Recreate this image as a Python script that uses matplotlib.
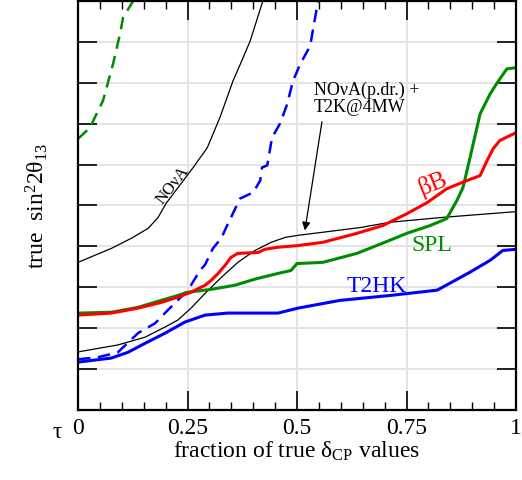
import numpy as np
import matplotlib
matplotlib.use("Agg")
import matplotlib.pyplot as plt
from matplotlib.ticker import MultipleLocator

plt.rcParams['font.family'] = ['Liberation Serif', 'DejaVu Serif']
plt.rcParams['mathtext.fontset'] = 'custom'
plt.rcParams['mathtext.rm'] = 'Liberation Serif'
plt.rcParams['mathtext.it'] = 'Liberation Serif'

# sensitivity limits, y in grid units (one unit per tick spacing)
nova_x = [0.0, 0.076, 0.122, 0.16, 0.183, 0.201, 0.263, 0.295, 0.324, 0.354, 0.374, 0.393, 0.422]
nova_y = [3.61, 3.95, 4.2, 4.44, 4.71, 5.05, 5.93, 6.41, 7.15, 8.05, 8.54, 9.02, 10.0]

comb_x = [0.0, 0.091, 0.153, 0.199, 0.228, 0.258, 0.29, 0.327, 0.365, 0.404, 0.441,
          0.473, 0.502, 0.644, 0.712, 0.833, 1.0]
comb_y = [1.42, 1.59, 1.78, 2.03, 2.2, 2.49, 2.85, 3.24, 3.61, 3.9, 4.1,
          4.22, 4.27, 4.46, 4.59, 4.71, 4.85]

spl_d_x = [0.0, 0.027, 0.057, 0.08, 0.096, 0.103, 0.126]
spl_d_y = [6.63, 6.9, 7.56, 8.46, 9.2, 9.6, 10.0]

t2hk_d_x = [0.0, 0.046, 0.091, 0.137, 0.176, 0.205, 0.235, 0.251, 0.279, 0.29, 0.308,
            0.327, 0.34, 0.37, 0.4, 0.416, 0.42, 0.432, 0.443, 0.461, 0.477, 0.491,
            0.507, 0.53, 0.548]
t2hk_d_y = [1.24, 1.29, 1.41, 1.88, 2.12, 2.44, 2.76, 2.93, 3.42, 3.55, 3.95,
            4.2, 4.5, 5.17, 5.32, 5.61, 5.93, 5.98, 6.66, 7.0, 7.46, 8.05,
            8.45, 8.9, 10.0]

bb_x = [0.0, 0.076, 0.137, 0.19, 0.228, 0.258, 0.29, 0.304, 0.32, 0.336, 0.349, 0.365,
        0.411, 0.427, 0.457, 0.502, 0.559, 0.637, 0.696, 0.751, 0.797, 0.842, 0.888,
        0.918, 0.934, 0.948, 0.963, 1.0]
bb_y = [2.32, 2.37, 2.49, 2.63, 2.76, 2.88, 3.05, 3.17, 3.34, 3.54, 3.73, 3.83,
        3.85, 3.93, 3.98, 4.02, 4.1, 4.32, 4.51, 4.8, 5.07, 5.41, 5.61,
        5.73, 6.1, 6.39, 6.59, 6.78]

spl_x = [0.0, 0.076, 0.137, 0.19, 0.228, 0.251, 0.304, 0.358, 0.404, 0.457, 0.486, 0.5,
         0.559, 0.637, 0.712, 0.751, 0.804, 0.842, 0.856, 0.865, 0.879, 0.895, 0.918,
         0.941, 0.957, 0.979, 1.0]
spl_y = [2.37, 2.39, 2.51, 2.68, 2.8, 2.88, 2.95, 3.05, 3.2, 3.34, 3.41, 3.58,
         3.61, 3.83, 4.15, 4.32, 4.51, 4.68, 4.95, 5.12, 5.44, 6.17, 7.24,
         7.73, 8.0, 8.34, 8.37]

t2hk_x = [0.0, 0.076, 0.114, 0.153, 0.199, 0.244, 0.29, 0.342, 0.457, 0.502, 0.598,
          0.712, 0.82, 0.849, 0.895, 0.941, 0.97, 1.0]
t2hk_y = [1.17, 1.27, 1.41, 1.63, 1.88, 2.15, 2.32, 2.37, 2.37, 2.49, 2.68,
          2.8, 2.93, 3.1, 3.37, 3.66, 3.9, 3.93]

red = '#ff0000'
green = '#008c00'
blue = '#0000ff'

fig = plt.figure(figsize=(5.22, 4.8), dpi=100)
ax = fig.add_axes([78 / 522, 1 - 410 / 480, 438 / 522, 409 / 480])

ax.plot(spl_d_x, spl_d_y, color=green, lw=1.8, dashes=(5, 3))
ax.plot(t2hk_d_x, t2hk_d_y, color=blue, lw=1.8, dashes=(5, 3))
ax.plot(nova_x, nova_y, color='black', lw=0.9)
ax.plot(comb_x, comb_y, color='black', lw=0.9)
ax.plot(t2hk_x, t2hk_y, color=blue, lw=2.2)
ax.plot(spl_x, spl_y, color=green, lw=2.2)
ax.plot(bb_x, bb_y, color=red, lw=2.2)

ax.set_xlim(0, 1)
ax.set_ylim(0, 10)
ax.xaxis.set_minor_locator(MultipleLocator(0.05))
ax.yaxis.set_major_locator(MultipleLocator(1))
ax.set_xticks([0, 0.25, 0.5, 0.75, 1])
ax.set_xticklabels(['0', '0.25', '0.5', '0.75', '1'])
ax.set_yticklabels([])
ax.tick_params(which='major', direction='in', length=14, width=1.2,
               top=True, right=True, labelsize=17, pad=6)
ax.tick_params(which='minor', direction='in', length=6, width=1.0, top=True)
ax.grid(True, which='major', color='#e4e4e4', lw=1.4)
ax.set_axisbelow(True)
for s in ax.spines.values():
    s.set_linewidth(1.6)

ax.set_xlabel(r'fraction of true δ$_{\mathrm{CP}}$ values', fontsize=17, labelpad=0)
ax.set_ylabel(r'true  sin$^2$2θ$_{13}$', fontsize=17, labelpad=14)
ax.text(-0.047, -0.056, 'τ', transform=ax.transAxes, fontsize=17,
        ha='center', va='center')

ax.text(0.217, 5.5, 'NOνA', rotation=52, fontsize=12, ha='center', va='center')
ax.text(0.81, 5.53, 'βB', rotation=22, fontsize=18, color=red, ha='center', va='center')
ax.text(0.808, 4.02, 'SPL', fontsize=17, color=green, ha='center', va='center')
ax.text(0.683, 3.02, 'T2HK', fontsize=17, color=blue, ha='center', va='center')
ax.text(0.538, 7.61, 'NOνA(p.dr.) +\nT2K@4MW', fontsize=13, ha='left', va='center',
        linespacing=1.05)
ax.annotate('', xy=(0.518, 4.39), xytext=(0.557, 7.05),
            arrowprops=dict(arrowstyle='-|>', color='black', lw=0.9,
                            shrinkA=0, shrinkB=0, mutation_scale=12))

fig.savefig('out.png', dpi=100)
